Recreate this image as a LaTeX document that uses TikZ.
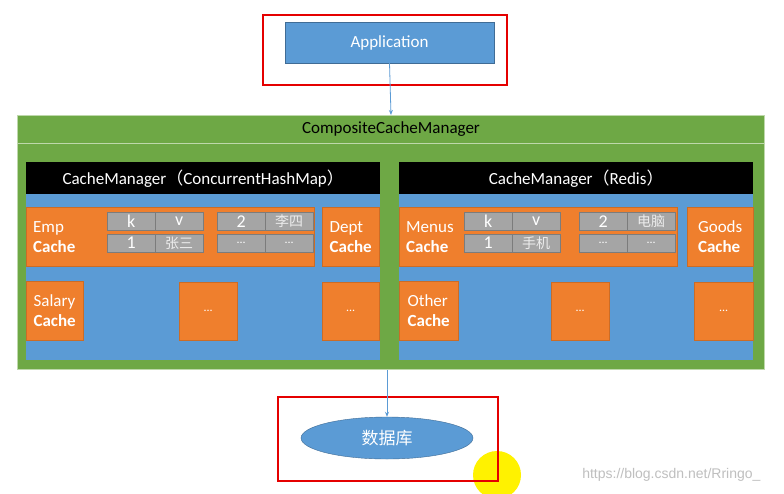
\documentclass[tikz,border=0pt]{standalone}
\usepackage{fontspec}
\setmainfont{Carlito}
\newfontfamily\cjk{Noto Sans CJK SC}
\newfontfamily\webfont{Liberation Sans}
\usetikzlibrary{arrows.meta, shapes.geometric}
\definecolor{offblue}{HTML}{5B9BD5}
\definecolor{offgreen}{HTML}{6EA845}
\definecolor{offorange}{HTML}{EF7F2D}
\definecolor{offgrey}{HTML}{A5A5A5}
\newcommand{\celldots}{{\fontsize{12}{14}\selectfont ...}}
\newcommand{\cellcjk}[1]{{\cjk\fontsize{14}{16}\selectfont\color{white!85!gray}#1}}
\tikzstyle{redframe} = [draw=red!90!black, line width=1.5pt, inner sep=0pt, anchor=north west]
\tikzstyle{appbox} = [fill=offblue, draw=offblue!70!black, text=white,
  minimum width=209pt, minimum height=41pt, inner sep=0pt]
\tikzstyle{greenbox} = [fill=offgreen, draw=offgreen!45!white, line width=1pt,
  minimum width=747pt, anchor=north west, inner sep=0pt]
\tikzstyle{header} = [fill=black, text=white, minimum width=354pt,
  minimum height=32pt, anchor=north west, inner sep=0pt]
\tikzstyle{panel} = [fill=offblue, minimum width=354pt, minimum height=166pt,
  anchor=north west, inner sep=0pt]
\tikzstyle{cache} = [fill=offorange, draw=offorange!85!black, text=white, align=left,
  anchor=north west, inner sep=0pt, minimum height=59pt]
\tikzstyle{cell} = [fill=offgrey, draw=offgrey!75!black, text=white, minimum width=48pt,
  minimum height=18pt, anchor=north west, inner sep=0pt, font=\fontsize{18}{18}\selectfont]
\tikzstyle{arrow} = [draw=offblue, line width=0.8pt, -{Stealth[length=5pt, width=4pt]}]

\begin{document}
\begin{tikzpicture}[x=1pt, y=-1pt, every node/.style={font=\fontsize{17}{20}\selectfont}]
  \useasboundingbox[fill=white] (0,0) rectangle (784,493);

  \node[redframe, minimum width=244pt, minimum height=70pt] (appframe) at (262,14) {};
  \node[appbox] (app) at (389.5,42.5) {Application};

  \node[greenbox, minimum height=28pt] (ccmtitle) at (17,115) {CompositeCacheManager};
  \node[greenbox, minimum height=226pt] (ccm) at (17,143) {};

  % ConcurrentHashMap side
  \node[panel] (lpanel) at (26,194) {};
  \node[header] (lhead) at (26,162) {CacheManager{\cjk （}ConcurrentHashMap{\cjk ）}};
  \node[cache, text width=274pt, inner xsep=7pt] (emp) at (26,207) {Emp\\\textbf{Cache}};
  \node[cache, minimum width=57pt] (dept) at (322,207) {Dept\\\textbf{Cache}};
  \node[cache, minimum width=57pt, minimum height=59pt] (salary) at (26,281) {Salary\\\textbf{Cache}};
  \node[cache, minimum width=58pt, minimum height=58pt, align=center] (ldots) at (179,282) {\celldots};
  \node[cache, minimum width=57pt, minimum height=58pt, align=center] (ldotsr) at (322,282) {\celldots};
  \foreach \x/\y/\t [count=\i] in {107/212/k, 155/212/v, 107/234/1, 155/234/\cellcjk{张三},
      217/212/2, 265/212/\cellcjk{李四}, 217/234/\celldots, 265/234/\celldots}
    \node[cell] (lc\i) at (\x,\y) {\t};

  % Redis side
  \node[panel] (rpanel) at (399,194) {};
  \node[header] (rhead) at (399,162) {CacheManager{\cjk （}Redis{\cjk ）}};
  \node[cache, text width=264pt, inner xsep=7pt] (menus) at (399,207) {Menus\\\textbf{Cache}};
  \node[cache, minimum width=66pt] (goods) at (687,207) {Goods\\\textbf{Cache}};
  \node[cache, minimum width=59pt] (other) at (399,281) {Other\\\textbf{Cache}};
  \node[cache, minimum width=58pt, minimum height=58pt, align=center] (rdots) at (551,282) {\celldots};
  \node[cache, minimum width=59pt, minimum height=58pt, align=center] (rdotsr) at (694,282) {\celldots};
  \foreach \x/\y/\t [count=\i] in {464/212/k, 512/212/v, 464/234/1, 512/234/\cellcjk{手机},
      579/212/2, 627/212/\cellcjk{电脑}, 579/234/\celldots, 627/234/\celldots}
    \node[cell] (rc\i) at (\x,\y) {\t};

  \fill[yellow] (497,475) circle (24pt);
  \node[redframe, minimum width=220pt, minimum height=84pt] (dbframe) at (277,396) {};
  \node[ellipse, fill=offblue, draw=offblue!70!black, text=white, minimum width=172pt,
    minimum height=42pt, inner sep=0pt, font=\cjk\fontsize{17}{20}\selectfont] (db) at (387,438) {数据库};

  \draw[arrow] (app.south) -- (ccmtitle.north);
  \draw[arrow] (ccm.south -| db.north) -- (db.north);

  \node[text=black!25, anchor=east, font=\webfont\fontsize{14}{16}\selectfont] (mark) at (764,475) {https://blog.csdn.net/Rringo\_};
\end{tikzpicture}
\end{document}
